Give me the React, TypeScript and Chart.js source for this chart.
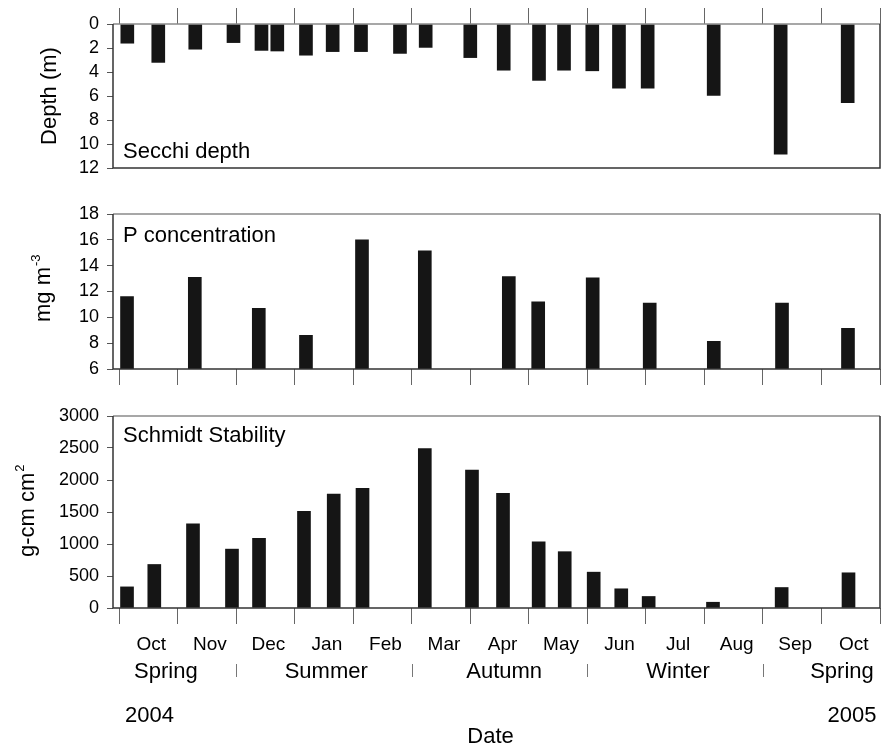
import { useEffect, useRef } from "react";
import { Chart, registerables } from "chart.js";

Chart.register(...registerables);

// ---- data (x values are months since 1 Oct 2004) ----
const monthTicks = [0, 1, 2, 3, 4, 5, 6, 7, 8, 9, 10, 11, 12, 13];
const monthLabels = ["Oct", "Nov", "Dec", "Jan", "Feb", "Mar", "Apr", "May", "Jun", "Jul", "Aug", "Sep", "Oct"];

const secchiDates = [0.142, 0.671, 1.303, 1.956, 2.434, 2.704, 3.194, 3.65, 4.134, 4.8, 5.239, 6.001, 6.572, 7.175, 7.602, 8.085, 8.541, 9.031, 10.159, 11.303, 12.448];
const secchiDepth = [1.6, 3.2, 2.1, 1.55, 2.2, 2.25, 2.6, 2.3, 2.3, 2.45, 1.95, 2.8, 3.85, 4.7, 3.85, 3.9, 5.35, 5.35, 5.95, 10.85, 6.55];

const pDates = [0.137, 1.295, 2.388, 3.194, 4.151, 5.224, 6.659, 7.161, 8.092, 9.066, 10.161, 11.326, 12.453];
const pValues = [11.6, 13.1, 10.7, 8.6, 16.0, 15.15, 13.15, 11.2, 13.05, 11.1, 8.15, 11.1, 9.15];

const schmidtDates = [0.137, 0.603, 1.264, 1.93, 2.392, 3.16, 3.668, 4.16, 5.224, 6.03, 6.56, 7.169, 7.614, 8.109, 8.58, 9.048, 10.147, 11.32, 12.462];
const schmidtValues = [330, 680, 1315, 920, 1090, 1510, 1780, 1870, 2490, 2155, 1790, 1035, 880, 560, 300, 180, 90, 320, 550];

const seasonLabels = ["Spring", "Summer", "Autumn", "Winter", "Spring"];
const seasonPos = [0.8, 3.54, 6.58, 9.55, 12.35];
const seasonBounds = [2, 5, 8, 11];
const yearLabels = ["2004", "2005"];
const yearPos = [0.52, 12.52];

const FONT = '"Liberation Sans", Arial, Helvetica, sans-serif';
const X_MIN = -0.1025;
const X_MAX = 13;

type PanelOpts = {
  dates: number[];
  values: number[];
  yMin: number;
  yMax: number;
  yStep: number;
  reverse: boolean;
  xPos: "top" | "bottom";
  padding: { top: number; bottom: number };
  label: string;
  labelDy: (a: any) => number;
  title: string;
  sup?: string;
  titleX: number;
  titleY: number;
  titleAlign: CanvasTextAlign;
  extra?: (chart: any) => void;
};

function makeConfig(o: PanelOpts): any {
  const decor = {
    id: "panelDecor",
    afterDraw(chart: any) {
      const ctx: CanvasRenderingContext2D = chart.ctx;
      const a = chart.chartArea;
      ctx.save();
      ctx.lineWidth = 1.5;
      ctx.strokeStyle = "#8a8a8a";
      ctx.beginPath();
      ctx.moveTo(a.left, a.top);
      ctx.lineTo(a.right, a.top);
      ctx.stroke();
      ctx.strokeStyle = "#333";
      ctx.beginPath();
      ctx.moveTo(a.right, a.top);
      ctx.lineTo(a.right, a.bottom);
      ctx.lineTo(a.left, a.bottom);
      ctx.lineTo(a.left, a.top);
      ctx.stroke();

      ctx.fillStyle = "#000";
      ctx.font = `22px ${FONT}`;
      ctx.textAlign = "left";
      ctx.textBaseline = "alphabetic";
      ctx.fillText(o.label, a.left + 10, o.labelDy(a));

      ctx.translate(o.titleX, o.titleY);
      ctx.rotate(-Math.PI / 2);
      ctx.textAlign = o.titleAlign;
      ctx.fillText(o.title, 0, 0);
      if (o.sup) {
        const w = ctx.measureText(o.title).width;
        ctx.font = `13px ${FONT}`;
        ctx.textAlign = "left";
        ctx.fillText(o.sup, w + 1, -10);
      }
      ctx.restore();
      if (o.extra) {
        ctx.save();
        o.extra(chart);
        ctx.restore();
      }
    },
  };

  return {
    type: "bar",
    data: {
      datasets: [
        {
          data: o.dates.map((d, i) => ({ x: d, y: o.values[i] })),
          backgroundColor: "#151515",
          borderWidth: 0,
          barThickness: 13,
        },
      ],
    },
    options: {
      animation: false,
      responsive: false,
      devicePixelRatio: 1,
      layout: { padding: { left: 0, right: 10, top: o.padding.top, bottom: o.padding.bottom } },
      plugins: { legend: { display: false }, tooltip: { enabled: false } },
      scales: {
        x: {
          type: "linear",
          position: o.xPos,
          min: X_MIN,
          max: X_MAX,
          offset: false,
          afterBuildTicks: (s: any) => {
            s.ticks = monthTicks.map((v) => ({ value: v }));
          },
          ticks: { display: false, includeBounds: false, autoSkip: false },
          grid: {
            offset: false,
            drawOnChartArea: false,
            drawTicks: true,
            tickLength: 16,
            color: "#666",
            lineWidth: 1,
          },
          border: { display: false },
          afterFit: (s: any) => {
            s.height = 16;
          },
        },
        y: {
          type: "linear",
          min: o.yMin,
          max: o.yMax,
          reverse: o.reverse,
          ticks: {
            stepSize: o.yStep,
            autoSkip: false,
            color: "#000",
            padding: 8,
            font: { family: FONT, size: 18 },
            callback: (v: any) => String(v),
          },
          grid: { drawOnChartArea: false, tickLength: 6, color: "#555", lineWidth: 1 },
          border: { display: false },
          afterFit: (s: any) => {
            s.width = 113;
          },
        },
      },
    },
    plugins: [decor],
  };
}

function bottomLabels(chart: any) {
  const ctx: CanvasRenderingContext2D = chart.ctx;
  const xs = chart.scales.x;
  const a = chart.chartArea;
  ctx.fillStyle = "#000";
  ctx.textBaseline = "alphabetic";
  ctx.textAlign = "center";
  ctx.font = `19px ${FONT}`;
  monthLabels.forEach((m, i) => {
    ctx.fillText(m, xs.getPixelForValue(i + 0.5) + 3, 260);
  });
  ctx.font = `22px ${FONT}`;
  seasonLabels.forEach((s, i) => {
    ctx.fillText(s, xs.getPixelForValue(seasonPos[i]), 288);
  });
  ctx.strokeStyle = "#777";
  ctx.lineWidth = 1;
  seasonBounds.forEach((b) => {
    const x = Math.round(xs.getPixelForValue(b)) + 0.5;
    ctx.beginPath();
    ctx.moveTo(x, 274);
    ctx.lineTo(x, 287);
    ctx.stroke();
  });
  yearLabels.forEach((y, i) => {
    ctx.fillText(y, xs.getPixelForValue(yearPos[i]), 332);
  });
  ctx.fillText("Date", (a.left + a.right) / 2 - 6, 353);
}

export default function App() {
  const r1 = useRef<HTMLCanvasElement>(null);
  const r2 = useRef<HTMLCanvasElement>(null);
  const r3 = useRef<HTMLCanvasElement>(null);

  useEffect(() => {
    const c1 = new Chart(
      r1.current!,
      makeConfig({
        dates: secchiDates,
        values: secchiDepth,
        yMin: 0,
        yMax: 12,
        yStep: 2,
        reverse: true,
        xPos: "top",
        padding: { top: 8, bottom: 22 },
        label: "Secchi depth",
        labelDy: (a) => a.bottom - 10,
        title: "Depth (m)",
        titleX: 56,
        titleY: 96,
        titleAlign: "center",
      })
    );
    const c2 = new Chart(
      r2.current!,
      makeConfig({
        dates: pDates,
        values: pValues,
        yMin: 6,
        yMax: 18,
        yStep: 2,
        reverse: false,
        xPos: "bottom",
        padding: { top: 24, bottom: 5 },
        label: "P concentration",
        labelDy: (a) => a.top + 28,
        title: "mg m",
        sup: "-3",
        titleX: 50,
        titleY: 132,
        titleAlign: "left",
      })
    );
    const c3 = new Chart(
      r3.current!,
      makeConfig({
        dates: schmidtDates,
        values: schmidtValues,
        yMin: 0,
        yMax: 3000,
        yStep: 500,
        reverse: false,
        xPos: "bottom",
        padding: { top: 26, bottom: 122 },
        label: "Schmidt Stability",
        labelDy: (a) => a.top + 26,
        title: "g-cm cm",
        sup: "2",
        titleX: 34,
        titleY: 167,
        titleAlign: "left",
        extra: bottomLabels,
      })
    );
    return () => {
      c1.destroy();
      c2.destroy();
      c3.destroy();
    };
  }, []);

  return (
    <div style={{ position: "absolute", left: 0, top: 0, width: 890, height: 746, background: "#fff" }}>
      <canvas ref={r1} width={890} height={190} style={{ position: "absolute", left: 0, top: 0 }} />
      <canvas ref={r2} width={890} height={200} style={{ position: "absolute", left: 0, top: 190 }} />
      <canvas ref={r3} width={890} height={356} style={{ position: "absolute", left: 0, top: 390 }} />
    </div>
  );
}
